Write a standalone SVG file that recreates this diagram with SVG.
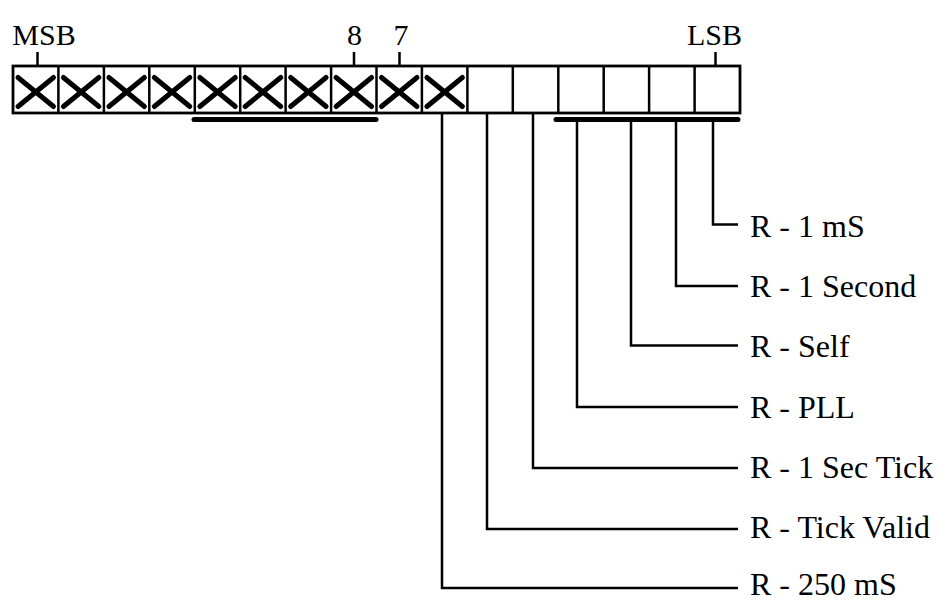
<svg xmlns="http://www.w3.org/2000/svg" width="939" height="601" viewBox="0 0 939 601">
<style>
.cell{fill:#fff;stroke:#000;stroke-width:2.8}
.x{stroke:#000;stroke-width:5;stroke-linecap:round;fill:none}
.tick{stroke:#000;stroke-width:2.5}
.ul{stroke:#000;stroke-width:5;stroke-linecap:round}
.con{fill:none;stroke:#000;stroke-width:2.5}
.lbl{font-family:"Liberation Serif","Times New Roman",serif;font-size:32px;fill:#000}
.top{font-family:"Liberation Serif","Times New Roman",serif;font-size:30px;fill:#000;text-anchor:middle}
</style>
<defs>
<path id="xm" class="x" d="M5,11.5 L40.5,40.5 M40.5,11.5 L5,40.5"/>
</defs>
<g id="register">
<rect class="cell" x="13" y="66" width="727" height="47"/>
<g class="tick">
<line x1="58.4" y1="66" x2="58.4" y2="113"/>
<line x1="103.9" y1="66" x2="103.9" y2="113"/>
<line x1="149.3" y1="66" x2="149.3" y2="113"/>
<line x1="194.8" y1="66" x2="194.8" y2="113"/>
<line x1="240.2" y1="66" x2="240.2" y2="113"/>
<line x1="285.6" y1="66" x2="285.6" y2="113"/>
<line x1="331.1" y1="66" x2="331.1" y2="113"/>
<line x1="376.5" y1="66" x2="376.5" y2="113"/>
<line x1="421.9" y1="66" x2="421.9" y2="113"/>
<line x1="467.4" y1="66" x2="467.4" y2="113"/>
<line x1="512.8" y1="66" x2="512.8" y2="113"/>
<line x1="558.3" y1="66" x2="558.3" y2="113"/>
<line x1="603.7" y1="66" x2="603.7" y2="113"/>
<line x1="649.1" y1="66" x2="649.1" y2="113"/>
<line x1="694.6" y1="66" x2="694.6" y2="113"/>
</g>
<use href="#xm" x="13" y="66"/>
<use href="#xm" x="58.4" y="66"/>
<use href="#xm" x="103.9" y="66"/>
<use href="#xm" x="149.3" y="66"/>
<use href="#xm" x="194.8" y="66"/>
<use href="#xm" x="240.2" y="66"/>
<use href="#xm" x="285.6" y="66"/>
<use href="#xm" x="331.1" y="66"/>
<use href="#xm" x="376.5" y="66"/>
<use href="#xm" x="421.9" y="66"/>
</g>
<g id="top-labels">
<line class="tick" x1="37.5" y1="52" x2="37.5" y2="66"/>
<line class="tick" x1="354" y1="52" x2="354" y2="66"/>
<line class="tick" x1="399.5" y1="52" x2="399.5" y2="66"/>
<line class="tick" x1="715.5" y1="52" x2="715.5" y2="66"/>
<text class="top" x="44" y="45">MSB</text>
<text class="top" x="354.5" y="45">8</text>
<text class="top" x="401" y="45">7</text>
<text class="top" x="714.5" y="45">LSB</text>
</g>
<g id="underlines">
<line class="ul" x1="194" y1="119.5" x2="376" y2="119.5"/>
<line class="ul" x1="556" y1="119.5" x2="738" y2="119.5"/>
</g>
<g id="connectors">
<polyline class="con" points="713,119.5 713,224.5 738,224.5"/>
<polyline class="con" points="676,119.5 676,286 738,286"/>
<polyline class="con" points="631,119.5 631,345.5 738,345.5"/>
<polyline class="con" points="577,119.5 577,407 738,407"/>
<polyline class="con" points="533,113 533,468 738,468"/>
<polyline class="con" points="487,113 487,529 738,529"/>
<polyline class="con" points="442,113 442,588 738,588"/>
</g>
<g id="labels">
<text class="lbl" x="750" y="237">R - 1 mS</text>
<text class="lbl" x="750" y="297">R - 1 Second</text>
<text class="lbl" x="750" y="357">R - Self</text>
<text class="lbl" x="750" y="418">R - PLL</text>
<text class="lbl" x="750" y="478">R - 1 Sec Tick</text>
<text class="lbl" x="750" y="538">R - Tick Valid</text>
<text class="lbl" x="750" y="595">R - 250 mS</text>
</g>
</svg>
